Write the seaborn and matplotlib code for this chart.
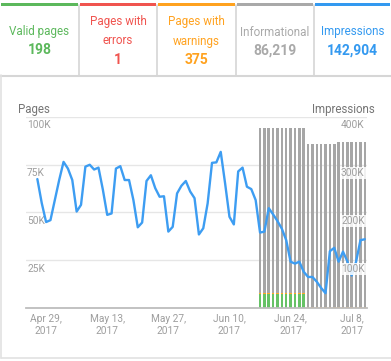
import matplotlib
matplotlib.use("Agg")
import numpy as np
import pandas as pd
import matplotlib.pyplot as plt
import matplotlib.transforms as mtransforms
from matplotlib.patches import Rectangle
import seaborn as sns

# ---- data ----
start_date = "2017-04-27"
impressions = [
    270000, 220000, 180000, 184000, 226000, 268000, 306000, 292000, 268000, 202000,
    216000, 296000, 300000, 290000, 294000, 248000, 195000, 198000, 292000, 297000,
    268000, 268000, 226000, 169000, 179000, 266000, 278000, 251000, 233000, 234000,
    160000, 170000, 240000, 256000, 266000, 244000, 230000, 154000, 167000, 219000,
    304000, 305000, 327000, 261000, 191000, 175000, 286000, 294000, 254000, 249000,
    226000, 158000, 160000, 209000, 196000, 182000, 166000, 142000, 97000, 93000,
    97000, 76000, 65000, 65000, 55000, 42000, 31000, 119000, 126000, 97000,
    118000, 98000, 68000, 97000, 142000, 144000,
]

# coverage bars (pages), one per day from Jun 17 to Jul 11
bar_start = "2017-06-17"
errors = [0, 0, 0, 0, 0, 0, 0, 0, 0, 0, 0,
          1, 1, 1, 1, 1, 1, 1,
          1, 1, 1, 1, 1, 1, 1]
valid = [7200, 7200, 7200, 7200, 7200, 7200, 7200, 7200, 7200, 7200, 7200,
         200, 200, 200, 200, 200, 200, 200,
         198, 198, 198, 198, 198, 198, 198]
warnings = [500, 500, 500, 500, 500, 500, 500, 500, 500, 500, 500,
            375, 375, 375, 375, 375, 375, 375,
            375, 375, 375, 375, 375, 375, 375]
informational = [86500, 86500, 86500, 86500, 86500, 86500, 86500, 86500, 86500, 86500, 86500,
                 85300, 85300, 85300, 85300, 85300, 85300, 85300,
                 86219, 86219, 86219, 86219, 86219, 86219, 86219]

tiles = [
    (["Valid pages"], "198", "#5cb85c"),
    (["Pages with", "errors"], "1", "#f0544f"),
    (["Pages with", "warnings"], "375", "#ffa21f"),
    (["Informational"], "86,219", "#a9a9a9"),
    (["Impressions"], "142,904", "#3399f0"),
]
page_ticks = [25000, 50000, 75000, 100000]
page_tick_labels = ["25K", "50K", "75K", "100K"]
impr_ticks = [100000, 200000, 300000, 400000]
impr_tick_labels = ["100K", "200K", "300K", "400K"]
date_ticks = ["2017-04-29", "2017-05-13", "2017-05-27", "2017-06-10", "2017-06-24", "2017-07-08"]

sns.set_theme(style="white")
plt.rcParams["font.family"] = ["Roboto", "DejaVu Sans"]

W, H = 391, 361
fig = plt.figure(figsize=(W / 100, H / 100), dpi=100)
fig.patch.set_facecolor("white")

# overlay in pixel coordinates for the tiles and frame
ov = fig.add_axes([0, 0, 1, 1])
ov.set_xlim(0, W)
ov.set_ylim(H, 0)
ov.axis("off")

edges = [0, 79, 157, 236, 314, 391]
for i, (label, value, color) in enumerate(tiles):
    x0, x1 = edges[i], edges[i + 1]
    cx = (x0 + x1) / 2
    ov.add_patch(Rectangle((x0 + 1, 2.5), x1 - x0 - 2, 3, color=color, lw=0))
    if len(label) == 1:
        ov.text(cx, 32, label[0], color=color, fontsize=8.4, ha="center", va="center")
        ov.text(cx, 50.5, value, color=color, fontsize=10, fontweight="bold",
                ha="center", va="center")
    else:
        ov.text(cx, 22, label[0], color=color, fontsize=8.4, ha="center", va="center")
        ov.text(cx, 41, label[1], color=color, fontsize=8.4, ha="center", va="center")
        ov.text(cx, 59.5, value, color=color, fontsize=10, fontweight="bold",
                ha="center", va="center")
for x in edges[1:-1]:
    ov.plot([x, x], [5, 75], color="#d6d6d6", lw=1.2)
ov.plot([0, W], [75.5, 75.5], color="#d6d6d6", lw=1.5)
ov.plot([1, 1], [75, 358], color="#e2e2e2", lw=1.2)
ov.plot([1, W], [358, 358], color="#e2e2e2", lw=1.2)

ov.text(18, 109, "Pages", color="#757575", fontsize=8.3, ha="left", va="center",
        zorder=10, bbox=dict(facecolor="white", edgecolor="none", pad=1.5))
ov.text(375, 109, "Impressions", color="#757575", fontsize=8.3, ha="right", va="center",
        zorder=10, bbox=dict(facecolor="white", edgecolor="none", pad=1.5))

# ---- chart ----
left, right, top, bottom = 26, 367, 117, 308
ax = fig.add_axes([left / W, (H - bottom) / H, (right - left) / W, (bottom - top) / H])
ax.patch.set_alpha(0)

dates = pd.date_range(start_date, periods=len(impressions))
bar_dates = pd.date_range(bar_start, periods=len(valid))

for v in page_ticks:
    ax.axhline(v, color="#e6e6e6", lw=1, zorder=0)

bw = 0.58
b0 = np.zeros(len(valid))
for vals, col in [(errors, "#f0544f"), (valid, "#66c266"), (warnings, "#ffa726"),
                  (informational, "#a6a6a6")]:
    ax.bar(bar_dates, vals, bottom=b0, width=bw, color=col, lw=0, zorder=2)
    b0 = b0 + np.array(vals)

ax.set_ylim(0, 100000)
ax.set_yticks([])
offset = mtransforms.offset_copy(ax.get_yaxis_transform(), fig=fig, x=1, y=-3.5, units="dots")
for v, lab in zip(page_ticks, page_tick_labels):
    ax.text(0, v, lab, transform=offset, color="#9e9e9e", fontsize=7.3,
            ha="left", va="top", zorder=5)

ax2 = ax.twinx()
line_df = pd.DataFrame({"date": dates, "impressions": impressions})
sns.lineplot(data=line_df, x="date", y="impressions", ax=ax2, color="#3d9df2",
             lw=1.7, zorder=3)
ax2.set_ylim(0, 400000)
ax2.set_yticks([])
ax2.set_ylabel("")
ax2.set_xlabel("")
offset2 = mtransforms.offset_copy(ax2.get_yaxis_transform(), fig=fig, x=-26, y=-3.5, units="dots")
for v, lab in zip(impr_ticks, impr_tick_labels):
    ax2.text(1, v, lab, transform=offset2, color="#9e9e9e", fontsize=7.3,
             ha="left", va="top", zorder=6, clip_on=True,
             bbox=dict(facecolor="white", edgecolor="none", alpha=0.85, pad=0.8))

x0 = pd.Timestamp(start_date)
ax.set_xlim(x0 - pd.Timedelta(days=2.6), x0 + pd.Timedelta(days=75.5))
ticks = pd.to_datetime(date_ticks)
ax.set_xticks(ticks)
ax.set_xticklabels([f"{d.strftime('%b')} {d.day},\n{d.year}" for d in ticks],
                   color="#9e9e9e", fontsize=7.3, linespacing=1.25)
ax.tick_params(axis="x", length=0, pad=4)
ax2.tick_params(axis="x", length=0)

for a in (ax, ax2):
    for s in a.spines.values():
        s.set_visible(False)
ax.spines["bottom"].set_visible(True)
ax.spines["bottom"].set_color("#bdbdbd")
ax.spines["bottom"].set_linewidth(1.3)

fig.savefig("out.png", dpi=100)
